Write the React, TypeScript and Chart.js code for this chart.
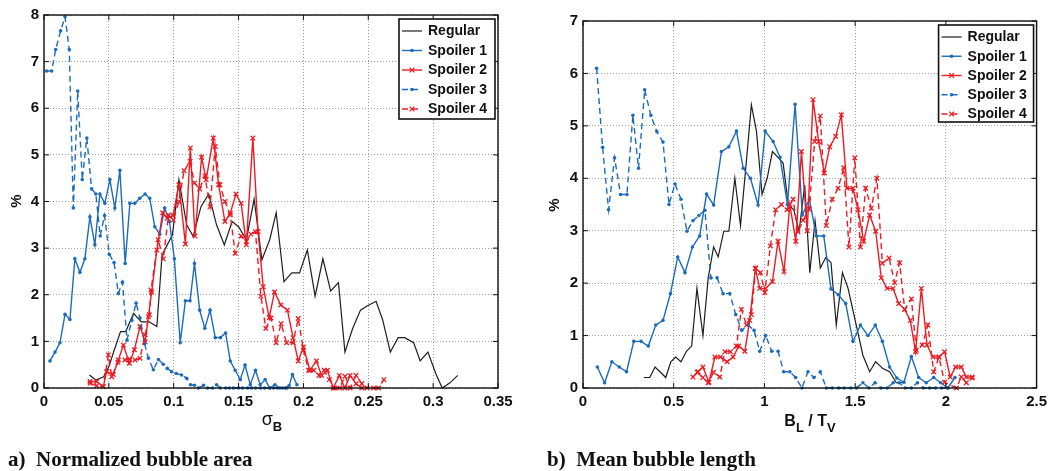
import React, { useEffect, useRef } from 'react';
import { Chart, registerables } from 'chart.js';

Chart.register(...registerables);

const BLUE = '#1c6cbc';
const RED = '#ec1c24';
const BLACK = '#1e1e1e';
const SERIES_NAMES = ['Regular', 'Spoiler 1', 'Spoiler 2', 'Spoiler 3', 'Spoiler 4'];

// ---------- Panel a) Normalized bubble area (x = sigma_B, y = %) ----------
const areaRegularX = [0.035, 0.040, 0.046, 0.050, 0.054, 0.059, 0.063, 0.069, 0.075, 0.081,
  0.087, 0.091, 0.095, 0.099, 0.104, 0.110, 0.115, 0.121, 0.127, 0.133,
  0.139, 0.145, 0.150, 0.156, 0.162, 0.168, 0.174, 0.179, 0.185, 0.191,
  0.197, 0.203, 0.209, 0.215, 0.221, 0.227, 0.232, 0.238, 0.244, 0.249,
  0.256, 0.261, 0.267, 0.273, 0.278, 0.285, 0.290, 0.296, 0.302, 0.307,
  0.313, 0.319];
const areaRegularY = [0.28, 0.17, 0.24, 0.46, 0.80, 1.21, 1.21, 1.60, 1.42, 1.42,
  1.32, 2.85, 3.07, 3.28, 4.47, 3.50, 3.25, 3.89, 4.16, 3.50,
  3.07, 3.57, 3.46, 3.18, 4.05, 2.75, 3.18, 3.76, 2.28, 2.47,
  2.47, 2.96, 1.97, 2.77, 2.08, 2.26, 0.77, 1.28, 1.67, 1.76,
  1.86, 1.47, 0.77, 1.08, 1.08, 0.97, 0.58, 0.77, 0.31, 0.00,
  0.11, 0.27];

const areaSpoiler1X = [0.0046, 0.0085, 0.0123, 0.0162, 0.0200, 0.0238, 0.0277, 0.0315, 0.0354, 0.0392,
  0.0431, 0.0469, 0.0508, 0.0546, 0.0585, 0.0626, 0.0662, 0.0700, 0.0738, 0.0779,
  0.0815, 0.0854, 0.0892, 0.0930, 0.0967, 0.1005, 0.1050, 0.1090, 0.1126, 0.1160,
  0.1200, 0.1240, 0.1280, 0.1320, 0.1360, 0.1400, 0.1436, 0.1474, 0.1513, 0.1550,
  0.1590, 0.1630, 0.1667, 0.1705, 0.1740, 0.1780, 0.1820, 0.1860, 0.1890, 0.1915,
  0.1950];
const areaSpoiler1Y = [0.58, 0.77, 0.97, 1.58, 1.47, 2.77, 2.48, 2.77, 3.67, 3.07,
  4.16, 3.96, 4.47, 3.86, 4.67, 2.67, 3.96, 3.96, 4.07, 4.16,
  4.07, 3.46, 3.30, 3.86, 3.57, 2.77, 0.97, 1.87, 1.87, 2.67,
  1.67, 1.28, 1.67, 1.08, 1.08, 1.18, 0.58, 0.38, 0.18, 0.49,
  0.07, 0.38, 0.07, 0.18, 0.00, 0.07, 0.00, 0.00, 0.05, 0.29,
  0.07];

const areaSpoiler2X = [0.0355, 0.0406, 0.0457, 0.0483, 0.0534, 0.0573, 0.0612, 0.0658, 0.0697, 0.0740,
  0.0780, 0.0805, 0.0830, 0.0870, 0.0915, 0.0950, 0.0995, 0.1040, 0.1090, 0.1128,
  0.1164, 0.1215, 0.1250, 0.1305, 0.1346, 0.1395, 0.1436, 0.1480, 0.1520, 0.1560,
  0.1610, 0.1650, 0.1690, 0.1736, 0.1777, 0.1826, 0.1877, 0.1920, 0.1960, 0.2000,
  0.2050, 0.2100, 0.2140, 0.2185, 0.2230, 0.2277, 0.2320, 0.2360, 0.2406, 0.2450];
const areaSpoiler2Y = [0.14, 0.14, 0.03, 0.35, 0.29, 0.60, 0.92, 0.53, 0.82, 1.32,
  0.99, 1.53, 2.06, 2.96, 3.76, 3.64, 3.70, 4.36, 3.09, 5.15,
  3.26, 4.95, 4.47, 5.36, 4.36, 3.57, 3.75, 4.16, 3.96, 3.07,
  5.36, 3.35, 2.17, 1.51, 2.06, 1.78, 1.67, 1.08, 0.58, 0.88,
  0.38, 0.58, 0.27, 0.38, 0.00, 0.27, 0.00, 0.27, 0.09, 0.00];

const areaSpoiler3X = [0.0020, 0.0059, 0.0090, 0.0128, 0.0162, 0.0195, 0.0226, 0.0260, 0.0295, 0.0330,
  0.0367, 0.0400, 0.0433, 0.0467, 0.0503, 0.0540, 0.0573, 0.0605, 0.0640, 0.0677,
  0.0710, 0.0740, 0.0775, 0.0805, 0.0843, 0.0882, 0.0920, 0.0950, 0.0984, 0.1020,
  0.1060, 0.1100, 0.1130, 0.1160, 0.1190, 0.1230, 0.1260, 0.1300, 0.1330, 0.1360,
  0.1400, 0.1430, 0.1460, 0.1500, 0.1530, 0.1570, 0.1600, 0.1630, 0.1670, 0.1700,
  0.1740, 0.1770, 0.1800, 0.1840, 0.1870];
const areaSpoiler3Y = [6.80, 6.80, 7.26, 7.66, 7.96, 7.26, 3.86, 6.37, 4.47, 5.36,
  4.27, 4.16, 3.26, 3.70, 2.87, 2.69, 2.03, 2.27, 1.03, 1.45,
  1.82, 1.50, 0.95, 0.64, 0.39, 0.61, 0.51, 0.42, 0.35, 0.31,
  0.28, 0.21, 0.07, 0.06, 0.00, 0.06, 0.00, 0.00, 0.07, 0.00,
  0.00, 0.00, 0.00, 0.00, 0.00, 0.00, 0.00, 0.00, 0.00, 0.00,
  0.00, 0.00, 0.00, 0.00, 0.00];

const areaSpoiler4X = [0.0355, 0.0406, 0.0457, 0.0496, 0.0522, 0.0570, 0.0624, 0.0660, 0.0702, 0.0740,
  0.0780, 0.0812, 0.0825, 0.0880, 0.0920, 0.0960, 0.0997, 0.1040, 0.1080, 0.1126,
  0.1160, 0.1200, 0.1240, 0.1280, 0.1320, 0.1356, 0.1395, 0.1436, 0.1474, 0.1520,
  0.1560, 0.1595, 0.1630, 0.1672, 0.1710, 0.1750, 0.1790, 0.1828, 0.1870, 0.1920,
  0.1960, 0.2000, 0.2040, 0.2080, 0.2120, 0.2160, 0.2200, 0.2240, 0.2280, 0.2320,
  0.2360, 0.2406, 0.2450, 0.2490, 0.2540, 0.2580, 0.2620];
const areaSpoiler4Y = [0.10, 0.05, 0.03, 0.71, 0.24, 0.55, 0.60, 0.62, 0.60, 0.64,
  1.14, 1.57, 2.10, 3.18, 2.77, 3.71, 3.60, 4.00, 4.66, 4.86,
  4.40, 4.27, 4.55, 3.89, 5.18, 4.36, 4.00, 3.71, 2.89, 3.26,
  3.14, 3.30, 3.35, 1.97, 1.28, 1.50, 0.97, 1.38, 0.97, 0.97,
  1.49, 0.81, 0.38, 0.38, 0.27, 0.38, 0.18, 0.00, 0.00, 0.25,
  0.00, 0.27, 0.09, 0.00, 0.00, 0.00, 0.18];

// ---------- Panel b) Mean bubble length (x = B_L / T_V, y = %) ----------
const lengthRegularX = [0.335, 0.368, 0.397, 0.427, 0.456, 0.484, 0.511, 0.540, 0.570, 0.599,
  0.628, 0.661, 0.690, 0.720, 0.745, 0.776, 0.804, 0.837, 0.868, 0.897,
  0.928, 0.956, 0.987, 1.015, 1.044, 1.075, 1.103, 1.132, 1.162, 1.191,
  1.222, 1.250, 1.279, 1.308, 1.338, 1.367, 1.396, 1.430, 1.461, 1.488,
  1.543, 1.580, 1.613, 1.653, 1.690, 1.727, 1.764];
const lengthRegularY = [0.20, 0.20, 0.40, 0.30, 0.20, 0.50, 0.59, 0.50, 0.70, 0.80,
  1.90, 1.00, 2.10, 2.69, 2.50, 2.99, 2.99, 4.00, 3.10, 4.19,
  5.40, 4.90, 3.69, 4.00, 4.51, 4.40, 4.29, 3.49, 3.40, 2.99,
  3.87, 2.20, 3.19, 2.29, 2.49, 2.39, 1.20, 2.20, 1.90, 1.48,
  0.62, 0.31, 0.50, 0.37, 0.31, 0.10, 0.10];

const lengthSpoiler1X = [0.079, 0.119, 0.159, 0.200, 0.240, 0.280, 0.320, 0.360, 0.401, 0.441,
  0.482, 0.522, 0.562, 0.603, 0.643, 0.681, 0.720, 0.763, 0.804, 0.846,
  0.883, 0.923, 0.965, 1.004, 1.048, 1.086, 1.127, 1.169, 1.209, 1.248,
  1.286, 1.327, 1.367, 1.407, 1.448, 1.488, 1.529, 1.571, 1.611, 1.650,
  1.690, 1.730, 1.769, 1.810, 1.850, 1.892, 1.933, 1.971, 2.011, 2.050];
const lengthSpoiler1Y = [0.40, 0.10, 0.50, 0.40, 0.31, 0.89, 0.89, 0.80, 1.20, 1.29,
  1.80, 2.50, 2.20, 2.69, 2.90, 3.70, 3.49, 4.51, 4.60, 4.90,
  4.19, 4.00, 3.49, 4.90, 4.70, 4.40, 3.50, 5.41, 3.30, 3.60,
  2.90, 2.90, 1.89, 1.78, 1.61, 0.89, 1.20, 1.00, 1.20, 0.89,
  0.40, 0.19, 0.11, 0.60, 0.20, 0.10, 0.20, 0.10, 0.00, 0.20];

const lengthSpoiler2X = [0.606, 0.634, 0.661, 0.694, 0.727, 0.758, 0.794, 0.827, 0.859, 0.892,
  0.919, 0.950, 0.974, 1.007, 1.044, 1.075, 1.108, 1.140, 1.173, 1.204,
  1.236, 1.268, 1.299, 1.330, 1.360, 1.393, 1.424, 1.455, 1.488, 1.516,
  1.547, 1.580, 1.613, 1.644, 1.676, 1.709, 1.740, 1.773, 1.804, 1.833,
  1.865, 1.896, 1.929, 1.962, 1.993, 2.024, 2.054, 2.085, 2.113, 2.145];
const lengthSpoiler2Y = [0.21, 0.31, 0.40, 0.11, 0.59, 0.59, 0.50, 0.59, 0.80, 0.70,
  1.29, 2.28, 1.90, 1.90, 2.03, 2.80, 2.22, 3.50, 2.80, 4.51,
  3.00, 5.50, 4.70, 4.10, 4.60, 4.80, 5.21, 3.81, 3.81, 3.40,
  2.80, 3.30, 2.99, 2.10, 1.90, 1.90, 1.61, 1.50, 1.29, 0.69,
  1.90, 0.82, 0.59, 0.59, 0.69, 0.21, 0.40, 0.40, 0.21, 0.21];

const lengthSpoiler3X = [0.075, 0.108, 0.141, 0.174, 0.207, 0.242, 0.275, 0.306, 0.340, 0.374,
  0.407, 0.441, 0.474, 0.507, 0.540, 0.573, 0.606, 0.639, 0.672, 0.705,
  0.739, 0.772, 0.809, 0.842, 0.875, 0.910, 0.943, 0.974, 1.007, 1.040,
  1.075, 1.106, 1.140, 1.172, 1.207, 1.240, 1.273, 1.308, 1.341, 1.374,
  1.410, 1.440, 1.476, 1.507, 1.543, 1.576, 1.610, 1.643, 1.676, 1.710,
  1.743, 1.776, 1.810, 1.843, 1.876, 1.910, 1.943, 1.976, 2.010];
const lengthSpoiler3Y = [6.10, 4.59, 3.40, 4.39, 3.69, 3.69, 5.20, 4.19, 5.69, 5.20,
  4.89, 4.69, 3.50, 3.89, 3.60, 2.99, 3.19, 3.29, 3.39, 2.10,
  2.10, 1.80, 1.80, 1.40, 1.10, 1.20, 1.10, 0.70, 1.00, 0.70,
  0.70, 0.31, 0.31, 0.20, 0.00, 0.31, 0.20, 0.31, 0.00, 0.00,
  0.00, 0.00, 0.00, 0.00, 0.10, 0.00, 0.10, 0.00, 0.00, 0.10,
  0.10, 0.00, 0.00, 0.10, 0.00, 0.00, 0.00, 0.00, 0.00];

const lengthSpoiler4X = [0.630, 0.660, 0.690, 0.720, 0.754, 0.782, 0.813, 0.846, 0.873, 0.901,
  0.928, 0.952, 0.978, 1.002, 1.033, 1.062, 1.094, 1.125, 1.158, 1.185,
  1.213, 1.246, 1.277, 1.308, 1.341, 1.374, 1.406, 1.437, 1.466, 1.498,
  1.529, 1.558, 1.589, 1.620, 1.650, 1.687, 1.718, 1.745, 1.773, 1.810,
  1.837, 1.870, 1.901, 1.933, 1.962, 1.993, 2.058, 2.085, 2.113, 2.145];
const lengthSpoiler4Y = [0.30, 0.20, 0.10, 0.30, 0.21, 0.69, 0.69, 0.80, 1.50, 1.20,
  1.40, 2.29, 2.20, 1.82, 2.71, 3.40, 3.50, 3.40, 3.60, 2.98,
  3.20, 3.41, 4.70, 5.19, 3.10, 3.60, 3.81, 4.20, 2.69, 4.39,
  2.69, 3.81, 3.43, 4.00, 2.38, 2.48, 2.01, 2.39, 1.50, 1.70,
  0.72, 0.82, 1.20, 0.31, 0.59, 0.11, 0.00, 0.21, 0.10, 0.19];

// axis settings
const areaXMax = 0.35, areaXStep = 0.05, areaYMax = 8;
const lengthXMax = 2.5, lengthXStep = 0.5, lengthYMax = 7;

const TICK_FONT = { family: '"Liberation Sans", Arial, Helvetica, sans-serif', size: 15, weight: 'bold' as const };
const fmtTick = (v: any) => String(parseFloat(Number(v).toFixed(3)));

function zip(xs: number[], ys: number[]) {
  return xs.map((x, i) => ({ x, y: ys[i] }));
}

function makeDatasets(series: [number[], number[]][]) {
  const styles = [
    { color: BLACK, width: 1.2, radius: 0, style: 'circle', dash: [] as number[], pbw: 0 },
    { color: BLUE, width: 1.4, radius: 1.8, style: 'circle', dash: [] as number[], pbw: 0 },
    { color: RED, width: 1.4, radius: 3.2, style: 'crossRot', dash: [] as number[], pbw: 1.3 },
    { color: BLUE, width: 1.4, radius: 1.8, style: 'circle', dash: [6, 4], pbw: 0 },
    { color: RED, width: 1.4, radius: 3.2, style: 'crossRot', dash: [6, 4], pbw: 1.3 },
  ];
  return series.map(([xs, ys], i) => {
    const s = styles[i];
    return {
      label: SERIES_NAMES[i],
      data: zip(xs, ys),
      showLine: true,
      tension: 0,
      borderColor: s.color,
      backgroundColor: s.color,
      pointBackgroundColor: s.color,
      pointBorderColor: s.color,
      pointBorderWidth: s.pbw,
      pointRadius: s.radius,
      pointHoverRadius: s.radius,
      pointStyle: s.style,
      borderDash: s.dash,
      borderWidth: s.width,
      clip: false,
      order: 4 - i,
    };
  });
}

const decorPlugin = {
  id: 'decor',
  afterDraw(chart: any, _args: any, opts: any) {
    const { ctx, chartArea: a, scales } = chart;
    const line = (x1: number, y1: number, x2: number, y2: number) => {
      ctx.beginPath(); ctx.moveTo(x1, y1); ctx.lineTo(x2, y2); ctx.stroke();
    };
    ctx.save();
    ctx.setLineDash([]);
    ctx.strokeStyle = '#111';
    ctx.lineWidth = 1;
    const tl = 5;
    scales.x.ticks.forEach((t: any) => {
      const p = scales.x.getPixelForValue(t.value);
      line(p, a.bottom, p, a.bottom - tl);
      line(p, a.top, p, a.top + tl);
    });
    scales.y.ticks.forEach((t: any) => {
      const p = scales.y.getPixelForValue(t.value);
      line(a.left, p, a.left + tl, p);
      line(a.right, p, a.right - tl, p);
    });
    ctx.lineWidth = 1.4;
    ctx.strokeRect(a.left, a.top, a.right - a.left, a.bottom - a.top);

    // legend
    const bx = a.right - opts.dx - opts.w;
    const by = a.top + opts.dy;
    ctx.fillStyle = '#fff';
    ctx.fillRect(bx, by, opts.w, opts.h);
    ctx.lineWidth = 1.6;
    ctx.strokeStyle = '#111';
    ctx.strokeRect(bx, by, opts.w, opts.h);
    chart.data.datasets.forEach((ds: any, i: number) => {
      const cy = by + opts.first + i * opts.row;
      ctx.strokeStyle = ds.borderColor;
      ctx.lineWidth = ds.borderWidth;
      ctx.setLineDash(ds.borderDash || []);
      line(bx + 3, cy, bx + 23, cy);
      ctx.setLineDash([]);
      const mx = bx + 13;
      if (ds.pointRadius > 0) {
        if (ds.pointStyle === 'circle') {
          ctx.fillStyle = ds.borderColor;
          ctx.beginPath(); ctx.arc(mx, cy, ds.pointRadius, 0, Math.PI * 2); ctx.fill();
        } else {
          const r = ds.pointRadius * 0.75;
          ctx.lineWidth = ds.pointBorderWidth;
          line(mx - r, cy - r, mx + r, cy + r);
          line(mx - r, cy + r, mx + r, cy - r);
        }
      }
      ctx.fillStyle = '#111';
      ctx.font = 'bold 14px "Liberation Sans", Arial, sans-serif';
      ctx.textBaseline = 'middle';
      ctx.textAlign = 'left';
      ctx.fillText(ds.label, bx + 29, cy + 0.5);
    });
    ctx.restore();
  },
};

function buildConfig(datasets: any[], xMax: number, xStep: number, yMax: number,
  padding: any, yWidth: number, legend: any): any {
  return {
    type: 'scatter',
    data: { datasets },
    options: {
      animation: false,
      responsive: false,
      devicePixelRatio: 1,
      events: [],
      layout: { padding },
      plugins: { legend: { display: false }, tooltip: { enabled: false }, decor: legend },
      scales: {
        x: {
          type: 'linear', min: 0, max: xMax,
          ticks: { stepSize: xStep, font: TICK_FONT, color: '#111', padding: 5, maxRotation: 0, callback: fmtTick },
          grid: { color: '#a0a0a0', lineWidth: 1, drawTicks: false },
          border: { display: false, dash: [1, 2] },
          afterFit: (s: any) => { s.height = 83; },
        },
        y: {
          type: 'linear', min: 0, max: yMax,
          ticks: { stepSize: 1, font: TICK_FONT, color: '#111', padding: 5, callback: fmtTick },
          grid: { color: '#a0a0a0', lineWidth: 1, drawTicks: false },
          border: { display: false, dash: [1, 2] },
          afterFit: (s: any) => { s.width = yWidth; },
        },
      },
    },
    plugins: [decorPlugin],
  };
}

function ChartCanvas({ config, width, height }: { config: () => any; width: number; height: number }) {
  const ref = useRef<HTMLCanvasElement>(null);
  useEffect(() => {
    if (!ref.current) return;
    const chart = new Chart(ref.current, config());
    return () => chart.destroy();
  }, []);
  return <canvas ref={ref} width={width} height={height} style={{ display: 'block', width, height }} />;
}

const sans = '"Liberation Sans", Arial, Helvetica, sans-serif';
const serif = '"Liberation Serif", "Times New Roman", Times, serif';

export default function App() {
  const leftConfig = () => buildConfig(
    makeDatasets([
      [areaRegularX, areaRegularY],
      [areaSpoiler1X, areaSpoiler1Y],
      [areaSpoiler2X, areaSpoiler2Y],
      [areaSpoiler3X, areaSpoiler3Y],
      [areaSpoiler4X, areaSpoiler4Y],
    ]),
    areaXMax, areaXStep, areaYMax,
    { left: 0, top: 15, right: 32, bottom: 0 }, 44,
    { dx: 3, dy: 4, w: 96, h: 100, first: 12, row: 19.5 },
  );
  const rightConfig = () => buildConfig(
    makeDatasets([
      [lengthRegularX, lengthRegularY],
      [lengthSpoiler1X, lengthSpoiler1Y],
      [lengthSpoiler2X, lengthSpoiler2Y],
      [lengthSpoiler3X, lengthSpoiler3Y],
      [lengthSpoiler4X, lengthSpoiler4Y],
    ]),
    lengthXMax, lengthXStep, lengthYMax,
    { left: 0, top: 21, right: 15, bottom: 0 }, 53,
    { dx: 3, dy: 4, w: 95, h: 97, first: 12, row: 19.25 },
  );

  const yTitle = (x: number, y: number): React.CSSProperties => ({
    position: 'absolute', left: x, top: y, transform: 'translate(-50%, -50%) rotate(-90deg)',
    font: `bold 15px ${sans}`, color: '#111', lineHeight: '15px', whiteSpace: 'nowrap',
  });
  const sub: React.CSSProperties = { fontSize: 13, fontWeight: 'bold', position: 'relative', top: 6 };

  return (
    <div style={{ position: 'absolute', left: 0, top: 0, width: 1052, height: 471, background: '#fff', overflow: 'hidden' }}>
      <div style={{ position: 'absolute', left: 0, top: 0 }}>
        <ChartCanvas config={leftConfig} width={530} height={471} />
      </div>
      <div style={{ position: 'absolute', left: 530, top: 0 }}>
        <ChartCanvas config={rightConfig} width={522} height={471} />
      </div>

      <div style={yTitle(15, 201)}>%</div>
      <div style={yTitle(553, 205)}>%</div>

      <div style={{ position: 'absolute', left: 272, top: 410, transform: 'translateX(-50%)', font: `18px ${sans}`, lineHeight: '18px', color: '#111', whiteSpace: 'nowrap' }}>
        σ<span style={sub}>B</span>
      </div>
      <div style={{ position: 'absolute', left: 810, top: 413, transform: 'translateX(-50%)', font: `bold 16px ${sans}`, lineHeight: '16px', color: '#111', whiteSpace: 'nowrap' }}>
        B<span style={sub}>L</span> / T<span style={sub}>V</span>
      </div>

      <div style={{ position: 'absolute', left: 8, top: 449, font: `bold 21px ${serif}`, lineHeight: '21px', color: '#111', whiteSpace: 'pre' }}>
        {'a)  Normalized bubble area'}
      </div>
      <div style={{ position: 'absolute', left: 547, top: 449, font: `bold 21px ${serif}`, lineHeight: '21px', color: '#111', whiteSpace: 'pre' }}>
        {'b)  Mean bubble length'}
      </div>
    </div>
  );
}
